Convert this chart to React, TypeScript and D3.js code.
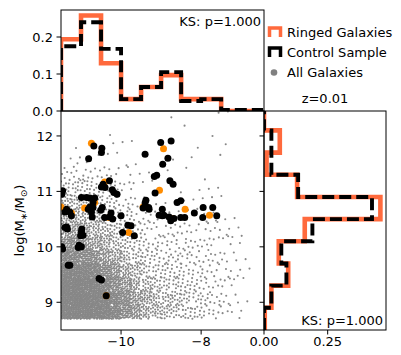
import React from "react";
import * as d3 from "d3";

// top panel: absolute magnitude histogram (normalised)
const magEdges = [-11.5, -11, -10.5, -10, -9.5, -9, -8.5, -8, -7.5, -7, -6.5];
const ringedMag = [0.194, 0.258, 0.129, 0.032, 0.065, 0.097, 0.032, 0.032, 0, 0];
const controlMag = [0.175, 0.24, 0.168, 0.032, 0.065, 0.105, 0.027, 0.032, 0.003, 0.003];

// right panel: stellar mass histogram (normalised)
const massEdges = [8.5, 8.9, 9.3, 9.7, 10.1, 10.5, 10.9, 11.3, 11.7, 12.1, 12.5];
const ringedMass = [0.003, 0.029, 0.095, 0.058, 0.16, 0.457, 0.13, 0.01, 0.062, 0];
const controlMass = [0, 0.029, 0.088, 0.068, 0.19, 0.424, 0.134, 0.029, 0.029, 0];

// control sample [mag, logM]
const controlPoints: [number, number][] = [
  [-10.68, 11.82], [-10.48, 11.78], [-10.49, 11.7], [-10.81, 11.59],
  [-9.01, 11.88], [-8.75, 11.91], [-9.4, 11.67], [-8.83, 11.6], [-8.96, 11.49],
  [-9.17, 11.27], [-9.11, 11.29], [-8.78, 11.19], [-8.7, 11.13], [-9.15, 10.97],
  [-10.29, 11.19], [-10.45, 11.13], [-10.4, 11.07], [-10.49, 11.08], [-10.22, 11.03], [-10.18, 10.98], [-10.1, 10.95],
  [-11.46, 11.01], [-11.48, 10.95],
  [-10.99, 10.89], [-10.86, 10.89], [-10.78, 10.88], [-10.66, 10.88], [-10.7, 10.8],
  [-10.78, 10.72], [-10.82, 10.68], [-10.7, 10.71], [-10.74, 10.63], [-10.72, 10.54],
  [-11.36, 10.68], [-11.28, 10.63], [-11.4, 10.63], [-11.24, 10.56],
  [-10.47, 10.71], [-10.51, 10.66], [-10.25, 10.61], [-10.41, 10.53], [-10.21, 10.5], [-10.29, 10.54],
  [-9.38, 10.84], [-9.4, 10.79], [-9.45, 10.7], [-9.31, 10.71], [-9.3, 10.68],
  [-8.97, 10.68], [-9.05, 10.57], [-8.97, 10.56], [-8.93, 10.57], [-8.8, 10.54], [-8.76, 10.47], [-8.68, 10.51], [-8.51, 10.53], [-8.41, 10.53],
  [-8.6, 10.8], [-8.51, 10.83], [-8.17, 10.61], [-7.95, 10.71], [-7.71, 10.71], [-7.96, 10.53], [-7.61, 10.56],
  [-9.83, 10.39], [-9.75, 10.38], [-9.96, 10.26], [-9.67, 10.2],
  [-11.36, 10.36], [-11.34, 10.32], [-11.4, 10.35],
  [-10.99, 10.27], [-10.95, 10.21], [-11.01, 10.2], [-10.98, 10.32],
  [-11.48, 10.0], [-11.46, 9.96],
  [-11.05, 10.03], [-10.99, 10.0], [-11.07, 9.99],
  [-11.28, 9.67], [-11.32, 9.67],
  [-10.55, 9.43], [-10.49, 9.4],
  [-10.37, 9.12],
  [-10.0, 10.56],
];

// ringed galaxies [mag, logM]
const ringedPoints: [number, number][] = [
  [-10.74, 11.87], [-10.41, 11.17], [-8.94, 11.77], [-9.04, 11.02], [-9.45, 10.72],
  [-8.4, 10.68], [-7.79, 10.57], [-8.72, 10.51], [-9.81, 10.26], [-10.66, 10.8],
  [-11.24, 10.61], [-10.3, 10.53], [-10.91, 10.7], [-10.37, 9.12], [-11.5, 10.72],
];

// all galaxies, counts per (mag, logM) cell
const gridMag = [-11.5, -11.25, -11, -10.75, -10.5, -10.25, -10, -9.75, -9.5, -9.25, -9, -8.75, -8.5, -8.25, -8, -7.75, -7.5, -7.25, -7, -6.75, -6.5];
const gridMass = [8.7, 8.95, 9.2, 9.45, 9.7, 9.95, 10.2, 10.45, 10.7, 10.95, 11.2, 11.45, 11.7, 11.95, 12.2, 12.45];
const allGalaxyCounts = [
  [85, 85, 85, 80, 75, 60, 45, 32, 24, 18, 15, 13, 11, 9, 7, 5, 3, 2, 1, 0],
  [90, 90, 85, 80, 75, 60, 45, 32, 24, 18, 15, 13, 11, 9, 7, 5, 4, 2, 1, 0],
  [85, 85, 80, 75, 60, 45, 34, 24, 17, 13, 11, 10, 8, 7, 5, 4, 3, 2, 1, 0],
  [75, 75, 70, 60, 48, 35, 25, 17, 12, 10, 9, 8, 7, 6, 5, 4, 3, 2, 1, 0],
  [55, 55, 50, 42, 32, 24, 17, 12, 9, 8, 7, 7, 6, 5, 5, 4, 3, 2, 1, 0],
  [40, 40, 35, 28, 22, 17, 12, 9, 7, 6, 5, 5, 5, 4, 4, 3, 3, 2, 1, 0],
  [30, 30, 26, 21, 16, 12, 9, 7, 5, 4, 4, 4, 4, 3, 3, 3, 2, 1, 0, 0],
  [22, 22, 19, 16, 13, 10, 7, 5, 4, 3, 3, 2, 2, 2, 2, 2, 1, 1, 0, 0],
  [15, 15, 13, 11, 9, 7, 5, 3, 2, 1, 1, 1, 1, 1, 1, 1, 1, 0, 0, 0],
  [10, 10, 9, 8, 7, 5, 3, 2, 1, 1, 0, 1, 0, 1, 1, 1, 0, 0, 0, 0],
  [5, 5, 5, 4, 4, 3, 2, 1, 1, 0, 1, 0, 1, 0, 1, 0, 0, 0, 0, 0],
  [1, 2, 2, 1, 1, 1, 1, 1, 0, 0, 0, 1, 0, 1, 0, 1, 0, 0, 0, 0],
  [0, 1, 0, 1, 0, 1, 1, 1, 0, 0, 0, 0, 0, 1, 0, 0, 1, 0, 0, 0],
  [0, 0, 0, 0, 1, 0, 0, 0, 0, 0, 0, 0, 1, 0, 0, 1, 0, 0, 0, 0],
  [0, 0, 0, 0, 0, 0, 0, 0, 0, 0, 0, 1, 0, 0, 0, 1, 1, 0, 0, 0],
];

const magTicks = [-10, -8];
const massTicks = [9, 10, 11, 12];
const topTicks = [0, 0.1, 0.2];
const rightTicks = [0, 0.25];

const ORANGE_LINE = "#ff6a3d";
const ORANGE_DOT = "#ff8c00";
const FONT = "DejaVu Sans, sans-serif";

const fmtMag = (v: number) => (v < 0 ? "\u2212" + Math.abs(v) : String(v));

export default function App() {
  const main = { l: 61, r: 264, t: 111, b: 330 };
  const top = { l: 61, r: 264, t: 10, b: 111 };
  const side = { l: 264, r: 386, t: 111, b: 330 };

  const x = d3.scaleLinear().domain([-11.5, -6.43]).range([main.l, main.r]);
  const y = d3.scaleLinear().domain([8.5, 12.45]).range([main.b, main.t]);
  const yTop = d3.scaleLinear().domain([0, 0.273]).range([top.b, top.t]);
  const xSide = d3.scaleLinear().domain([0, 0.479]).range([side.l, side.r]);

  const line = d3.line<[number, number]>();

  // step outline for the magnitude histogram
  const magStep = (vals: number[]) => {
    const pts: [number, number][] = [[x(magEdges[0]), yTop(0)]];
    vals.forEach((v, i) => {
      pts.push([x(magEdges[i]), yTop(v)]);
      pts.push([x(magEdges[i + 1]), yTop(v)]);
    });
    pts.push([x(magEdges[magEdges.length - 1]), yTop(0)]);
    return line(pts) || "";
  };
  // step outline for the mass histogram (horizontal)
  const massStep = (vals: number[]) => {
    const pts: [number, number][] = [[xSide(0), y(massEdges[0])]];
    vals.forEach((v, i) => {
      pts.push([xSide(v), y(massEdges[i])]);
      pts.push([xSide(v), y(massEdges[i + 1])]);
    });
    pts.push([xSide(0), y(massEdges[massEdges.length - 1])]);
    return line(pts) || "";
  };

  // place each cell's galaxies evenly inside the cell
  const grey: [number, number][] = [];
  allGalaxyCounts.forEach((row, r) => {
    row.forEach((n, c) => {
      for (let i = 0; i < n; i++) {
        const k = i + 1 + (r * 20 + c) * 37;
        const u = (0.5 + k * 0.7548776662) % 1;
        const v = (0.5 + k * 0.569840291) % 1;
        grey.push([
          gridMag[c] + u * (gridMag[c + 1] - gridMag[c]),
          gridMass[r] + v * (gridMass[r + 1] - gridMass[r]),
        ]);
      }
    });
  });

  return (
    <div style={{ position: "absolute", left: 0, top: 0 }}>
      <svg width={401} height={355} style={{ display: "block", background: "#fff" }} fontFamily={FONT}>
        <defs>
          <clipPath id="clipTop"><rect x={top.l} y={top.t} width={top.r - top.l} height={top.b - top.t} /></clipPath>
          <clipPath id="clipMain"><rect x={main.l} y={main.t} width={main.r - main.l} height={main.b - main.t} /></clipPath>
          <clipPath id="clipSide"><rect x={side.l} y={side.t} width={side.r - side.l} height={side.b - side.t} /></clipPath>
        </defs>

        {/* scatter */}
        <g clipPath="url(#clipMain)">
          {grey.map((d, i) => (
            <circle key={"g" + i} cx={x(d[0])} cy={y(d[1])} r={1.05} fill="#878787" />
          ))}
          {ringedPoints.map((d, i) => (
            <circle key={"o" + i} cx={x(d[0])} cy={y(d[1])} r={3.5} fill={ORANGE_DOT} />
          ))}
          {controlPoints.map((d, i) => (
            <circle key={"b" + i} cx={x(d[0])} cy={y(d[1])} r={3.5} fill="#000" />
          ))}
        </g>

        {/* top histogram */}
        <g clipPath="url(#clipTop)">
          <path d={magStep(ringedMag)} fill="none" stroke={ORANGE_LINE} strokeWidth={4.6} />
          <path d={magStep(controlMag)} fill="none" stroke="#000" strokeWidth={3.9} strokeDasharray="12,5" />
        </g>

        {/* right histogram */}
        <g clipPath="url(#clipSide)">
          <path d={massStep(ringedMass)} fill="none" stroke={ORANGE_LINE} strokeWidth={4.6} />
          <path d={massStep(controlMass)} fill="none" stroke="#000" strokeWidth={3.9} strokeDasharray="12,5" />
        </g>

        {/* frames */}
        <g fill="none" stroke="#000" strokeWidth={1}>
          <rect x={top.l} y={top.t} width={top.r - top.l} height={top.b - top.t} />
          <rect x={main.l} y={main.t} width={main.r - main.l} height={main.b - main.t} />
          <rect x={side.l} y={side.t} width={side.r - side.l} height={side.b - side.t} />
        </g>

        {/* top panel y axis */}
        {topTicks.map((t) => (
          <g key={"tt" + t}>
            <line x1={top.l - 4.5} x2={top.l} y1={yTop(t)} y2={yTop(t)} stroke="#000" />
            <text x={top.l - 8} y={yTop(t)} dy="0.36em" textAnchor="end" fontSize={13}>{t.toFixed(1)}</text>
          </g>
        ))}

        {/* main y axis */}
        {massTicks.map((t) => (
          <g key={"my" + t}>
            <line x1={main.l - 4.5} x2={main.l} y1={y(t)} y2={y(t)} stroke="#000" />
            <text x={main.l - 8} y={y(t)} dy="0.36em" textAnchor="end" fontSize={13}>{t}</text>
            <line x1={side.l - 4.5} x2={side.l} y1={y(t)} y2={y(t)} stroke="#000" />
          </g>
        ))}

        {/* main x axis */}
        {magTicks.map((t) => (
          <g key={"mx" + t}>
            <line x1={x(t)} x2={x(t)} y1={main.b} y2={main.b + 4.5} stroke="#000" />
            <text x={x(t)} y={main.b + 16} textAnchor="middle" fontSize={13}>{fmtMag(t)}</text>
          </g>
        ))}

        {/* right panel x axis */}
        {rightTicks.map((t) => (
          <g key={"rx" + t}>
            <line x1={xSide(t)} x2={xSide(t)} y1={side.b} y2={side.b + 4.5} stroke="#000" />
            <text x={xSide(t)} y={side.b + 16} textAnchor="middle" fontSize={13}>{t.toFixed(2)}</text>
          </g>
        ))}

        {/* y label */}
        <text transform={`translate(24,${(main.t + main.b) / 2}) rotate(-90)`} textAnchor="middle" fontSize={13}>
          log(M<tspan dy={3} fontSize={9}>{"\u2217"}</tspan>
          <tspan dy={-3}>/M</tspan>
          <tspan dy={3} fontSize={9}>{"\u2299"}</tspan>
          <tspan dy={-3}>)</tspan>
        </text>

        {/* KS annotations */}
        <text x={top.r - 3} y={26} textAnchor="end" fontSize={13}>KS: p=1.000</text>
        <text x={side.r - 3} y={side.b - 5} textAnchor="end" fontSize={13}>KS: p=1.000</text>

        {/* legend */}
        <path d="M269.5,37 V28 H280.5 V37" fill="none" stroke={ORANGE_LINE} strokeWidth={3.5} />
        <text x={287} y={37} fontSize={13}>Ringed Galaxies</text>
        <path d="M269.5,57 V48 H280.5 V57" fill="none" stroke="#000" strokeWidth={3.5} />
        <text x={287} y={57} fontSize={13}>Control Sample</text>
        <circle cx={274} cy={72.5} r={3.3} fill="#808080" />
        <text x={287} y={77} fontSize={13}>All Galaxies</text>
        <text x={(side.l + side.r) / 2} y={103} textAnchor="middle" fontSize={13}>z=0.01</text>
      </svg>
    </div>
  );
}
